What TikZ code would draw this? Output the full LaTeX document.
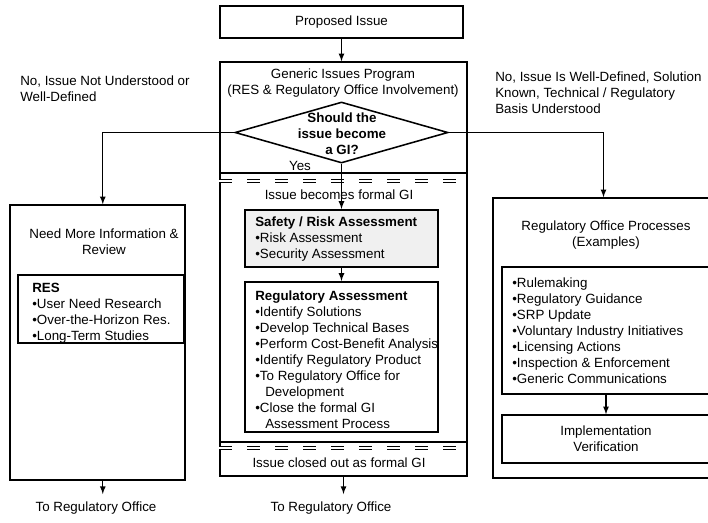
\documentclass[tikz,border=0pt]{standalone}
\usepackage{fontspec}
\setmainfont{Liberation Sans}
\usepackage{tikz}
\usetikzlibrary{positioning}
\usetikzlibrary{arrows,shapes}
\usetikzlibrary{calc}
\tikzstyle{frame}=[rectangle,draw=black,line width=1pt,inner sep=0pt,align=center,font=\fontsize{9.5}{11.4}\selectfont]
\tikzstyle{heavyframe}=[frame,line width=1.5pt]
\tikzstyle{question}=[diamond,draw=black,line width=1.1pt,inner sep=0pt]
\tikzstyle{caption}=[align=center,inner sep=0pt,font=\fontsize{9.5}{11.4}\selectfont]
\tikzstyle{outnote}=[caption,outer sep=5.5pt]
\tikzstyle{itemlist}=[align=left,anchor=west,inner sep=0pt,font=\fontsize{9.5}{11.4}\selectfont]
\tikzstyle{edge} = [draw,line width=0.9pt,-latex]
\tikzstyle{gidash} = [draw=black,line width=0.8pt,double=white,double distance=1.2pt,dash pattern=on 9.2pt off 10.7pt]

\begin{document}
\begin{tikzpicture}[x=0.025cm,y=-0.025cm]
    \useasboundingbox (0,0) rectangle (708,522);
    \clip (0,0) rectangle (708,522);

    % middle column
    \node[heavyframe,minimum width=6.075cm,minimum height=0.8cm] (proposed) at (341.5,22) {Proposed Issue};
    \node[frame,minimum width=6.175cm,minimum height=2.775cm] (gip) at (343.5,117.5) {};
    \node[frame,minimum width=6.175cm,minimum height=6.725cm] (formalgi) at (343.5,307.5) {};
    \node[frame,minimum width=6.175cm,minimum height=0.85cm] (closed) at (343.5,459) {};
    \node[question,minimum width=5.325cm,minimum height=1.525cm] (decide) at (341.5,132.5) {};
    \node[heavyframe,fill=black!6,minimum width=4.825cm,minimum height=1.425cm] (safety) at (341.5,238.5) {};
    \node[heavyframe,minimum width=4.825cm,minimum height=3.75cm] (regassess) at (341.5,357) {};
    \path[gidash] ($(formalgi.north west)+(0,9)$) -- ($(formalgi.north east)+(0,9)$);
    \path[gidash] ($(closed.north west)+(0,7)$) -- ($(closed.north east)+(0,7)$);

    % side columns
    \node[frame,minimum width=4.375cm,minimum height=6.875cm] (needinfo) at (97.5,342.5) {};
    \node[frame,line width=0.9pt,minimum width=4.15cm,minimum height=1.7cm] (res) at (101,309) {};
    \node[frame,minimum width=5.525cm,minimum height=7cm] (roproc) at (603.5,338) {};
    \node[frame,line width=1.2pt,minimum width=5.2cm,minimum height=3.175cm] (examples) at (606,330.5) {};
    \node[frame,minimum width=5.2cm,minimum height=1.2cm] (implement) at (606,439) {Implementation\\Verification};

    \foreach \pos/\name/\txt in {{(343,83.5)/giptitle/{Generic Issues Program\\(RES \& Regulatory Office Involvement)}}, {(300,166)/yes/Yes}, {(339,195)/formal/Issue becomes formal GI}, {(339,463)/closedtxt/Issue closed out as formal GI}, {(104,241.5)/needtitle/{Need More Information \&\\Review}}, {(606,235)/rotitle/{Regulatory Office Processes\\(Examples)}}}
        \node[caption] (\name) at \pos {\txt};
    \node[caption,font=\fontsize{9.5}{11.4}\selectfont\bfseries] (asktxt) at (342,134) {Should the\\issue become\\a GI?};

    \foreach \pos/\name in {{(96,508)/toroleft}, {(331,508)/toromid}}
        \node[outnote] (\name) at \pos {To Regulatory Office};

    \foreach \pos/\name/\txt in {{(20,88.5)/notunderstood/{No, Issue Not Understood or\\Well-Defined}}, {(495,93)/welldefined/{No, Issue Is Well-Defined, Solution\\Known, Technical / Regulatory\\Basis Understood}}, {(255,239)/safetytxt/{\textbf{Safety / Risk Assessment}\\•Risk Assessment\\•Security Assessment}}, {(255,359.5)/regtxt/{\textbf{Regulatory Assessment}\\•Identify Solutions\\•Develop Technical Bases\\•Perform Cost-Benefit Analysis\\•Identify Regulatory Product\\•To Regulatory Office for\\\hspace*{0.75em}Development\\•Close the formal GI\\\hspace*{0.75em}Assessment Process}}, {(32,313.5)/restxt/{\textbf{RES}\\•User Need Research\\•Over-the-Horizon Res.\\•Long-Term Studies}}, {(512,331)/examtxt/{•Rulemaking\\•Regulatory Guidance\\•SRP Update\\•Voluntary Industry Initiatives\\•Licensing Actions\\•Inspection \& Enforcement\\•Generic Communications}}}
        \node[itemlist] (\name) at \pos {\txt};

    \coordinate (leftin) at ($(needinfo.north west)!0.53!(needinfo.north east)$);
    \coordinate (leftout) at ($(needinfo.south west)!0.53!(needinfo.south east)$);

    \path[edge] (proposed.south) -- (proposed.south |- gip.north);
    \path[edge] (decide.west) -| (leftin);
    \path[edge] (decide.east) -| (roproc.north);
    \path[edge] (decide.south) -- (safety.north);
    \path[edge] (safety.south) -- (regassess.north);
    \path[edge] (examples.south) -- (implement.north);
    \path[edge] (leftout) -- (leftout |- toroleft.north);
    \path[edge] (closed.south) -- (closed.south |- toromid.north);
\end{tikzpicture}
\end{document}
